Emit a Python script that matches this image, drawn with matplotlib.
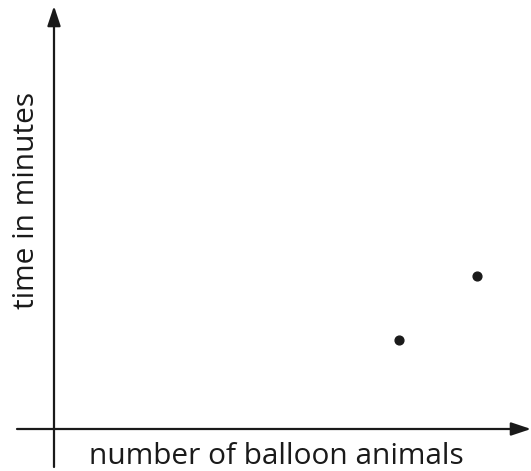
import matplotlib.pyplot as plt

# --- Data (units: arbitrary, origin at the axes crossing) ---
balloon_animals = [7.35, 9.0]
minutes = [1.9, 3.25]
x_label = "number of balloon animals"
y_label = "time in minutes"

# --- Layout (pixel positions of the axes crossing) ---
W, H = 531, 471
ORIGIN_X, ORIGIN_Y = 54, 429
PX_PER_UNIT = 47.0

plt.rcParams['font.family'] = ['Open Sans', 'DejaVu Sans']

fig = plt.figure(figsize=(W / 100, H / 100), dpi=100)
ax = fig.add_axes([0, 0, 1, 1])
ax.set_xlim(-ORIGIN_X / PX_PER_UNIT, (W - ORIGIN_X) / PX_PER_UNIT)
ax.set_ylim(-(H - ORIGIN_Y) / PX_PER_UNIT, ORIGIN_Y / PX_PER_UNIT)
ax.axis("off")

x0, x1 = ax.get_xlim()
arrow = dict(arrowstyle="-|>,head_length=1.2,head_width=0.4", lw=1.6,
             color="#1a1a1a", shrinkA=0, shrinkB=0)
ax.annotate("", xy=(x1, 0), xytext=(-37 / PX_PER_UNIT, 0), arrowprops=arrow)
ax.annotate("", xy=(0, (ORIGIN_Y - 6) / PX_PER_UNIT), xytext=(0, -38 / PX_PER_UNIT),
            arrowprops=arrow)

ax.scatter(balloon_animals, minutes, s=40, color="#1a1a1a", zorder=3)

ax.text((276 - ORIGIN_X) / PX_PER_UNIT, -(456 - ORIGIN_Y) / PX_PER_UNIT, x_label,
        ha="center", va="center", fontsize=21.5, color="#1a1a1a")
ax.text((27 - ORIGIN_X) / PX_PER_UNIT, (ORIGIN_Y - 200) / PX_PER_UNIT, y_label,
        ha="center", va="center", rotation=90, fontsize=21.5, color="#1a1a1a")

fig.savefig("out.png", dpi=100)
